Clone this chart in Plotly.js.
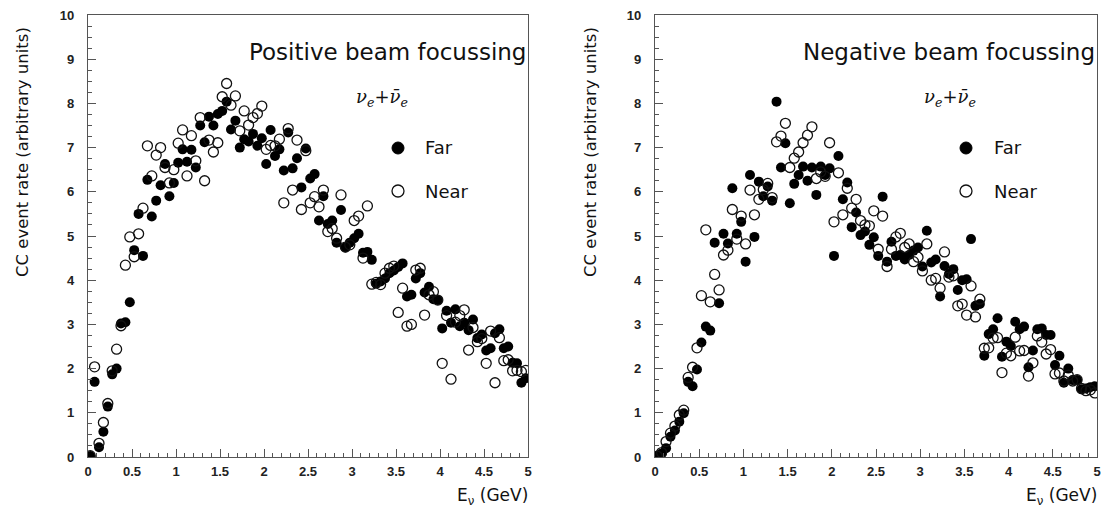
<!DOCTYPE html>
<html>
<head>
<meta charset="utf-8">
<script src="https://cdn.plot.ly/plotly-3.0.1.min.js"></script>
<style>html,body{margin:0;padding:0;background:#fff;}#chart{width:1109px;height:508px;}</style>
</head>
<body>
<div id="chart"></div>
<script>
// Bin centres (GeV)
const energyGeV = [0.025,0.075,0.125,0.175,0.225,0.275,0.325,0.375,0.425,0.475,
0.525,0.575,0.625,0.675,0.725,0.775,0.825,0.875,0.925,0.975,
1.025,1.075,1.125,1.175,1.225,1.275,1.325,1.375,1.425,1.475,
1.525,1.575,1.625,1.675,1.725,1.775,1.825,1.875,1.925,1.975,
2.025,2.075,2.125,2.175,2.225,2.275,2.325,2.375,2.425,2.475,
2.525,2.575,2.625,2.675,2.725,2.775,2.825,2.875,2.925,2.975,
3.025,3.075,3.125,3.175,3.225,3.275,3.325,3.375,3.425,3.475,
3.525,3.575,3.625,3.675,3.725,3.775,3.825,3.875,3.925,3.975,
4.025,4.075,4.125,4.175,4.225,4.275,4.325,4.375,4.425,4.475,
4.525,4.575,4.625,4.675,4.725,4.775,4.825,4.875,4.925,4.975];

// Positive beam focussing
const farPositive = [0.02,1.70,0.22,0.57,1.14,1.87,2.00,3.02,3.05,3.50,
4.68,5.50,4.55,6.27,5.44,5.80,6.15,6.63,5.90,6.20,
6.66,6.96,6.68,6.95,6.55,7.50,7.12,7.70,7.50,7.76,
7.83,8.04,7.41,7.61,7.00,7.19,7.14,7.31,7.04,7.21,
6.63,7.40,6.81,6.96,6.48,7.34,6.53,6.76,6.10,6.98,
6.30,6.40,5.35,5.90,5.27,5.35,4.85,5.59,4.74,4.85,
4.95,5.05,4.62,4.64,4.46,3.92,3.97,4.04,4.16,4.22,
4.30,4.38,3.63,3.67,4.04,4.16,3.72,3.85,3.57,3.55,
2.91,3.31,3.04,3.34,2.96,3.04,2.87,3.11,2.69,2.77,
2.41,2.46,2.80,2.89,2.46,2.50,2.13,2.12,1.68,1.78];
const nearPositive = [0.03,2.04,0.31,0.78,1.21,1.95,2.44,2.97,4.34,4.98,
4.53,5.05,5.63,7.04,6.36,6.83,7.00,6.55,6.20,6.50,
7.10,7.40,6.36,7.27,6.70,7.68,6.25,7.17,6.90,7.11,
8.15,8.45,7.96,8.17,7.38,7.83,7.51,7.68,7.77,7.94,
6.96,7.05,7.04,7.19,5.75,7.43,6.04,7.17,5.60,6.93,
5.75,5.89,5.66,6.04,5.10,5.17,4.95,5.93,4.75,4.80,
5.35,5.45,4.50,5.68,3.91,3.95,3.90,4.16,4.27,4.32,
3.27,3.82,2.96,3.00,4.23,4.27,3.21,3.67,3.74,3.55,
2.12,3.20,1.76,3.05,3.20,3.33,2.42,2.93,2.61,2.68,
2.12,2.85,1.68,2.70,2.18,2.20,1.95,1.96,1.93,1.96];

// Negative beam focussing
const farNegative = [0.03,0.08,0.20,0.46,0.60,0.80,0.99,1.70,1.60,1.98,
2.59,2.95,2.86,4.85,3.48,5.05,4.83,6.08,5.05,5.32,
4.42,6.38,4.98,6.23,5.90,6.12,5.80,8.04,6.55,7.10,
5.74,6.18,6.38,6.57,6.25,6.55,5.93,6.57,6.38,6.53,
4.55,6.81,5.83,6.21,5.20,5.53,5.02,5.10,4.80,4.97,
4.55,5.89,4.42,4.87,4.55,4.57,4.47,4.57,4.67,4.74,
4.31,5.12,4.40,4.47,3.63,4.32,4.14,4.25,3.78,4.00,
4.02,4.93,3.42,3.46,2.29,2.78,2.89,3.14,2.27,2.61,
2.51,3.06,2.89,2.95,2.03,2.41,2.89,2.91,2.76,2.76,
2.08,2.29,1.68,2.00,1.74,1.74,1.53,1.55,1.58,1.60];
const nearNegative = [0.02,0.10,0.35,0.54,0.70,0.95,1.06,1.80,2.03,2.47,
3.65,5.14,3.51,4.13,3.78,4.57,4.68,5.60,4.93,5.45,
4.82,6.04,5.48,5.83,6.05,6.19,5.87,7.13,7.26,7.55,
6.55,6.76,6.90,7.11,7.28,7.47,6.30,6.45,6.35,7.11,
5.32,6.43,5.48,6.08,5.63,5.83,5.35,5.25,5.23,5.57,
4.70,5.45,4.31,4.70,4.98,5.06,4.74,4.82,4.42,4.52,
4.21,4.82,4.00,4.04,3.82,4.64,4.07,4.10,3.42,3.46,
3.21,3.87,3.17,3.57,2.46,2.47,2.69,2.70,1.91,2.35,
2.29,2.71,2.40,2.41,1.83,2.13,2.74,2.60,2.33,2.43,
1.88,1.90,1.72,1.85,1.72,1.75,1.55,1.50,1.52,1.45];

const panelTitles = ['Positive beam focussing', 'Negative beam focussing'];
const seriesNames = ['Far', 'Near'];
const xTitle = 'E<sub>ν</sub> (GeV)';
const yTitle = 'CC event rate (arbitrary units)';
const flavourLabel = '<i>ν<sub>e</sub>+ν̄<sub>e</sub></i>';

const W = 1109, H = 508;
const px = v => v / W;
const py = v => 1 - v / H;

const textFont = 'DejaVu Sans, Lato, sans-serif';
const tickFont = {family: 'Liberation Sans, Arial, sans-serif', size: 13, color: '#222', weight: 'bold'};
const axisColor = '#555';

function farTrace(y, xa, ya) {
  return {x: energyGeV, y: y, xaxis: xa, yaxis: ya, type: 'scatter', mode: 'markers', name: 'Far',
    showlegend: false, marker: {symbol: 'circle', size: 10, color: '#000'}};
}
function nearTrace(y, xa, ya) {
  return {x: energyGeV, y: y, xaxis: xa, yaxis: ya, type: 'scatter', mode: 'markers', name: 'Near',
    showlegend: false, marker: {symbol: 'circle-open', size: 10, color: '#111', line: {width: 1.3, color: '#111'}}};
}

const data = [
  farTrace(farPositive, 'x', 'y'), nearTrace(nearPositive, 'x', 'y'),
  farTrace(farNegative, 'x2', 'y2'), nearTrace(nearNegative, 'x2', 'y2')
];

function xAxis(domain, anchor) {
  return {domain: domain, anchor: anchor, range: [0, 5], dtick: 0.5, tick0: 0,
    ticks: 'inside', ticklen: 8, tickwidth: 1, tickcolor: axisColor,
    showline: true, linecolor: axisColor, linewidth: 1.2, mirror: true,
    showgrid: false, zeroline: false, tickfont: tickFont, ticklabelstandoff: 2,
    minor: {dtick: 0.1, tick0: 0, ticks: 'inside', ticklen: 4, tickcolor: axisColor, showgrid: false}};
}
function yAxis(anchor) {
  return {domain: [py(457), py(15)], anchor: anchor, range: [0, 10], dtick: 1, tick0: 0,
    ticks: 'inside', ticklen: 8, tickwidth: 1, tickcolor: axisColor,
    showline: true, linecolor: axisColor, linewidth: 1.2, mirror: true,
    showgrid: false, zeroline: false, tickfont: tickFont, ticklabelstandoff: 10,
    minor: {dtick: 0.25, tick0: 0, ticks: 'inside', ticklen: 4, tickcolor: axisColor, showgrid: false}};
}

const panels = [
  {right: 528, ytitleX: 22, nuX: 382, legX: 398, legTextX: 423},
  {right: 1097, ytitleX: 590, nuX: 950, legX: 966, legTextX: 992}
];

const annotations = [];
const shapes = [];
panels.forEach((p, i) => {
  annotations.push({xref: 'paper', yref: 'paper', x: px(p.right), y: py(52), xanchor: 'right', yanchor: 'middle',
    text: panelTitles[i], showarrow: false, font: {family: textFont, size: 23, color: '#111'}});
  annotations.push({xref: 'paper', yref: 'paper', x: px(p.nuX), y: py(98), xanchor: 'center', yanchor: 'middle',
    text: flavourLabel, showarrow: false, font: {family: 'DejaVu Serif, serif', size: 18, color: '#111'}});
  annotations.push({xref: 'paper', yref: 'paper', x: px(p.legTextX), y: py(148), xanchor: 'left', yanchor: 'middle',
    text: seriesNames[0], showarrow: false, font: {family: textFont, size: 18, color: '#111'}});
  annotations.push({xref: 'paper', yref: 'paper', x: px(p.legTextX), y: py(191), xanchor: 'left', yanchor: 'middle',
    text: seriesNames[1], showarrow: false, font: {family: textFont, size: 18, color: '#111'}});
  annotations.push({xref: 'paper', yref: 'paper', x: px(p.right + 2), y: py(496), xanchor: 'right', yanchor: 'middle',
    text: xTitle, showarrow: false, font: {family: textFont, size: 17, color: '#111'}});
  annotations.push({xref: 'paper', yref: 'paper', x: px(p.ytitleX), y: py(152), xanchor: 'center', yanchor: 'middle',
    text: yTitle, textangle: -90, showarrow: false, font: {family: textFont, size: 16.5, color: '#111'}});
  shapes.push({type: 'circle', xref: 'paper', yref: 'paper', xsizemode: 'pixel', ysizemode: 'pixel',
    xanchor: px(p.legX), yanchor: py(148), x0: -6, x1: 6, y0: -6, y1: 6,
    fillcolor: '#000', line: {color: '#000', width: 1}});
  shapes.push({type: 'circle', xref: 'paper', yref: 'paper', xsizemode: 'pixel', ysizemode: 'pixel',
    xanchor: px(p.legX), yanchor: py(191), x0: -6, x1: 6, y0: -6, y1: 6,
    fillcolor: 'rgba(0,0,0,0)', line: {color: '#111', width: 1.3}});
});

const layout = {
  width: W, height: H, margin: {l: 0, r: 0, t: 0, b: 0},
  paper_bgcolor: '#fff', plot_bgcolor: '#fff', showlegend: false,
  xaxis: xAxis([px(88), px(528)], 'y'),
  yaxis: yAxis('x'),
  xaxis2: xAxis([px(655), px(1097)], 'y2'),
  yaxis2: yAxis('x2'),
  annotations: annotations,
  shapes: shapes
};

Plotly.newPlot('chart', data, layout, {displayModeBar: false, staticPlot: true});
</script>
</body>
</html>
